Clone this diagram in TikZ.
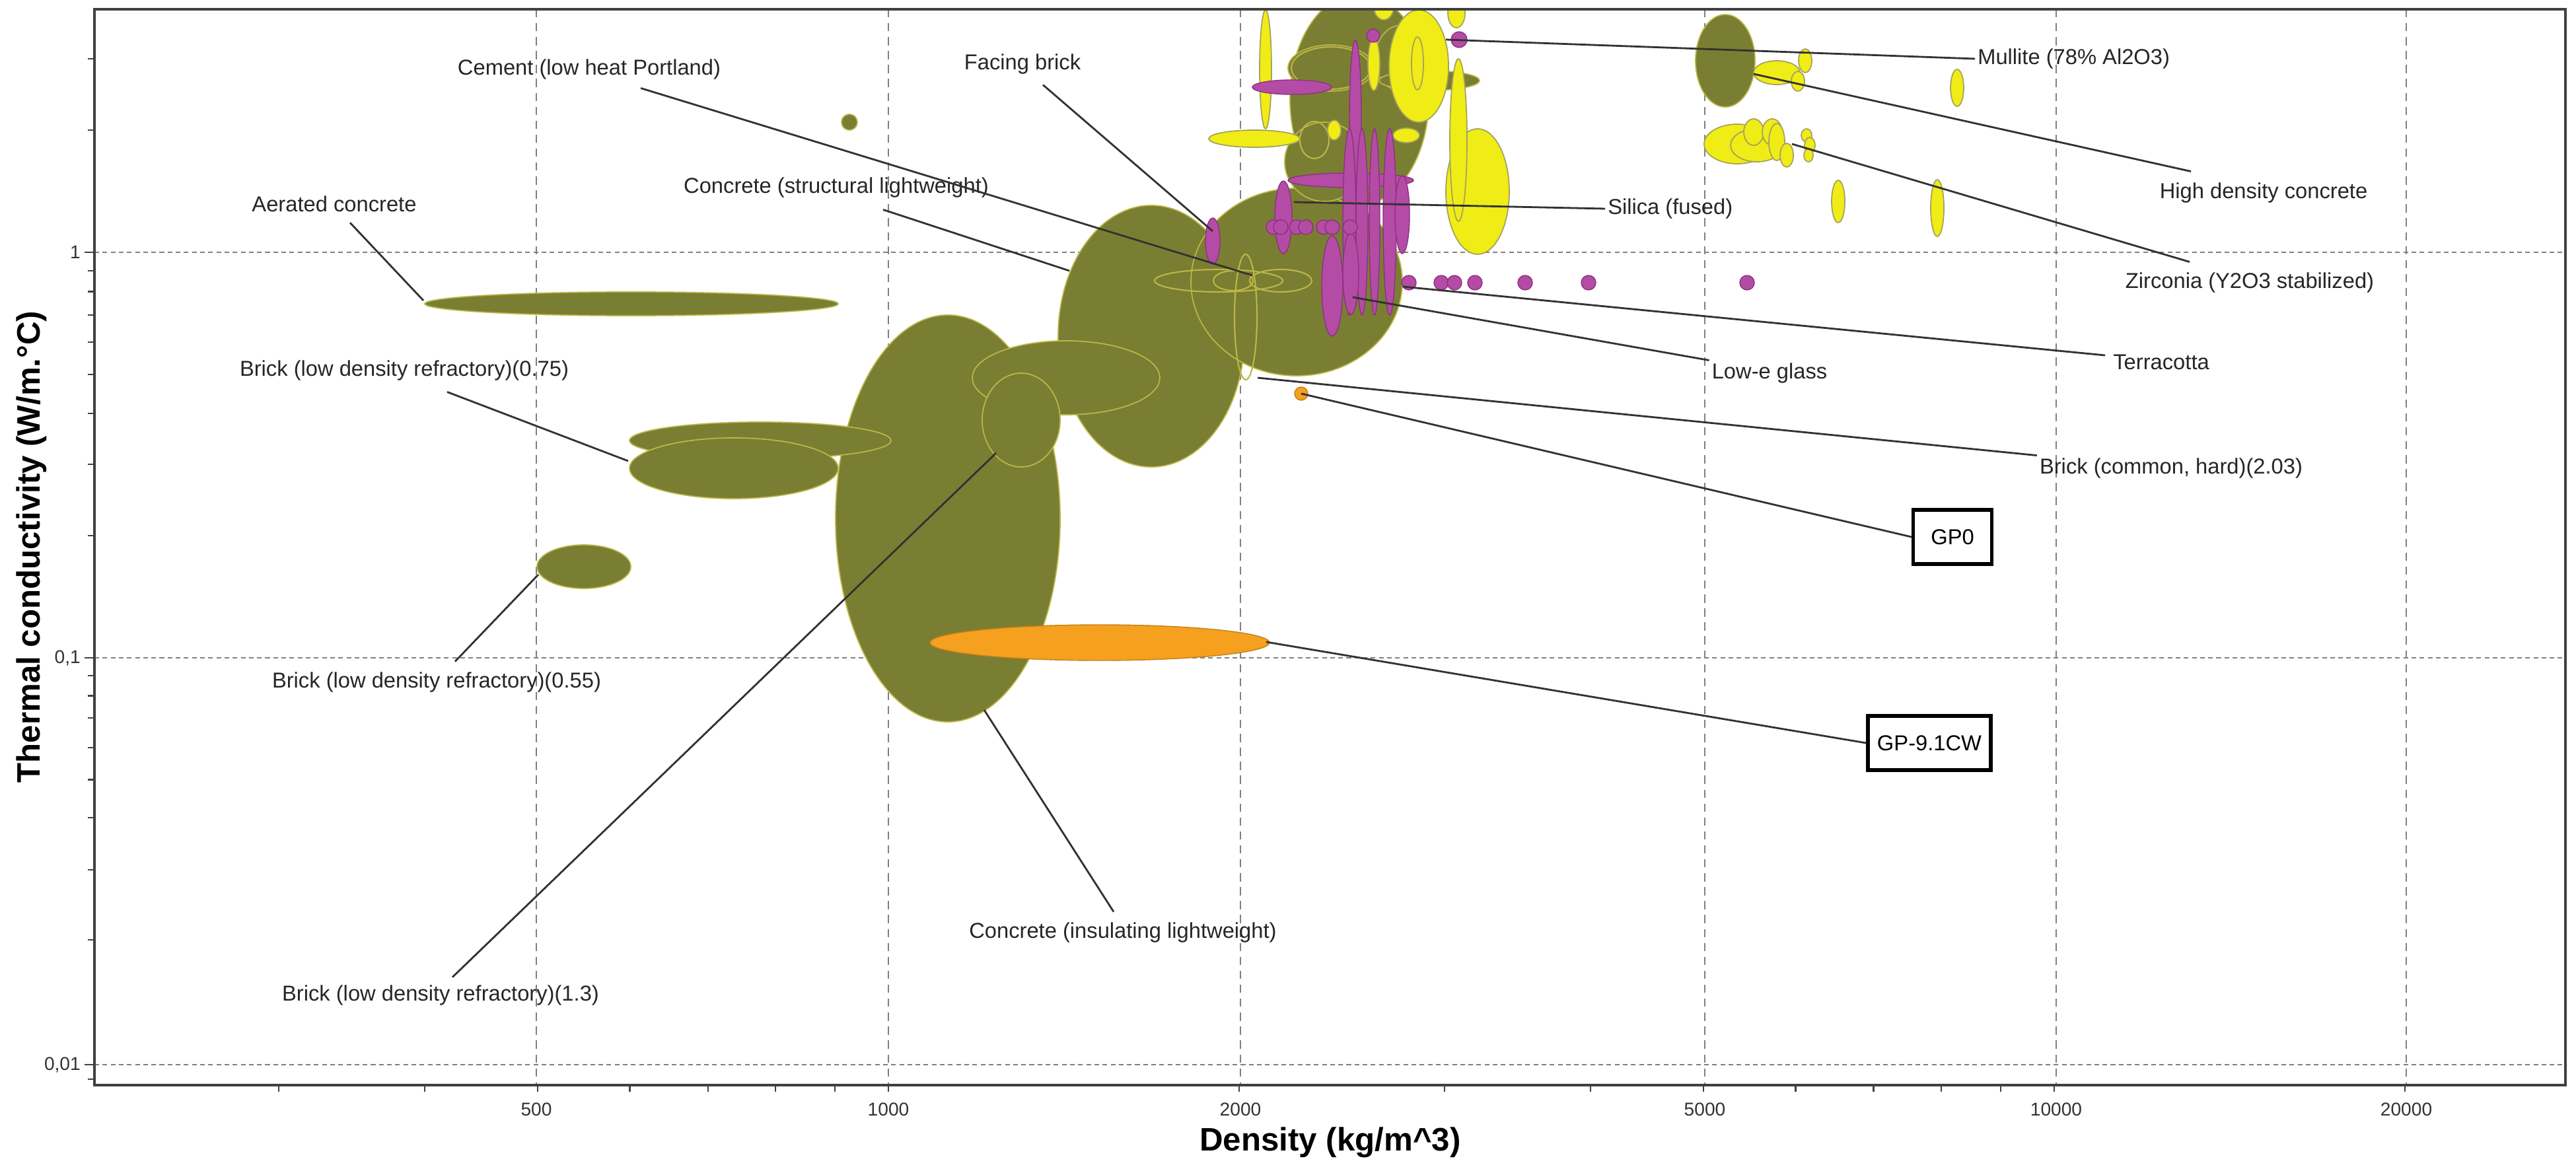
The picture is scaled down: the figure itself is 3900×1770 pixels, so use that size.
\documentclass[tikz,border=0pt]{standalone}
\usepackage{fontspec}
\setmainfont{Liberation Sans}
\usetikzlibrary{positioning,calc}
\definecolor{olivefill}{RGB}{122,126,50}
\definecolor{oliveedge}{RGB}{188,182,72}
\definecolor{yellowfill}{RGB}{240,236,22}
\definecolor{yellowedge}{RGB}{165,162,95}
\definecolor{magentafill}{RGB}{180,75,165}
\definecolor{magentaedge}{RGB}{140,50,130}
\definecolor{orangefill}{RGB}{245,160,30}
\definecolor{leadergray}{RGB}{50,50,50}

\begin{document}
\begin{tikzpicture}[
    x=0.01cm, y=-0.01cm,
    olive/.style={fill=olivefill, draw=oliveedge, line width=0.5pt},
    ring/.style={draw=oliveedge, line width=0.6pt},
    yel/.style={fill=yellowfill, draw=yellowedge, line width=0.5pt},
    mag/.style={fill=magentafill, draw=magentaedge, line width=0.4pt},
    org/.style={fill=orangefill, draw=orangefill!80!black, line width=0.4pt},
    grid/.style={gray, line width=0.45pt, dash pattern=on 3.5pt off 2.5pt},
    lbl/.style={font=\fontsize{9.3}{11}\selectfont, text=black!85, inner sep=1pt},
    tick/.style={font=\fontsize{8}{9}\selectfont, text=black!80, inner sep=1pt},
    title/.style={font=\fontsize{14}{16}\selectfont\bfseries, inner sep=1pt},
    leader/.style={draw=leadergray, line width=0.8pt},
    gpbox/.style={draw=black, line width=1.5pt, font=\fontsize{9.3}{11}\selectfont, minimum height=0.82cm, inner sep=2pt}
]
\useasboundingbox[fill=white] (0,0) rectangle (3900,1770);

% Grid
\foreach \gx in {812,1345,1878,2581,3113,3643}
  \draw[grid] (\gx,14) -- (\gx,1643);
\foreach \gy in {382,996,1612}
  \draw[grid, dash pattern=on 2pt off 1.5pt] (143,\gy) -- (3884,\gy);

% Material bubbles
\begin{scope}
\clip (143,14) rectangle (3884,1643);
\foreach \x/\y/\a/\b in {1435/785/170/308, 1743/509/141/198, 1963/427/160/142,
    2058/150/105/160, 2005/245/60/60, 2015/103/65/35, 2122/88/40/50, 2164/122/76/15,
    2612/92/45/70, 1151/667/198/28, 1111/709/158/46, 884/858/71/33, 956/460/313/18,
    1286/185/12/12, 1614/572/142/56, 1546/636/59/71}
  \filldraw[olive] (\x,\y) ellipse [x radius=\a, y radius=\b];
\foreach \x/\y/\a/\b in {1845/425/97/17, 1867/425/30/15, 1939/425/47/17,
    1886/480/17/95, 1990/212/22/28, 2015/103/60/32}
  \draw[ring] (\x,\y) ellipse [x radius=\a, y radius=\b];
\foreach \x/\y/\a/\b in {1916/105/9/90, 1899/210/69/13, 2148/100/45/85, 2237/290/48/95,
    2208/212/13/123, 2020/197/10/15, 2129/205/20/11, 2146/96/9/40, 2080/97/9/40,
    2095/10/15/20, 2205/20/13/22, 2690/110/35/18, 2733/92/10/18, 2722/123/10/15,
    2963/133/10/28, 2630/218/50/30, 2660/220/40/25, 2655/200/15/20, 2683/200/15/20,
    2690/215/12/28, 2705/235/10/18, 2735/205/8/10, 2740/220/8/12, 2738/235/7/10,
    2783/305/10/32, 2933/315/10/43}
  \filldraw[yel] (\x,\y) ellipse [x radius=\a, y radius=\b];
\foreach \x/\y/\a/\b in {2052/175/9/114, 1956/132/60/11, 2045/273/95/11,
    2043/336/10/141, 2062/336/9/141, 2081/336/8/141, 2104/336/10/141,
    2123/325/11/59, 1943/329/13/55, 2017/433/16/76, 2045/414/12/62,
    1836/365/11/35, 2079/54/10/10, 2209/60/12/12}
  \filldraw[mag] (\x,\y) ellipse [x radius=\a, y radius=\b];
\foreach \x in {1928,1939,1963,1977,2004,2017,2044}
  \filldraw[mag] (\x,344) ellipse [x radius=11, y radius=11];
\foreach \x in {2133,2182,2202,2233,2309,2405,2645}
  \filldraw[mag] (\x,428) ellipse [x radius=11, y radius=11];
\filldraw[org] (1665,973) ellipse [x radius=257, y radius=27];
\filldraw[org] (1970,596) ellipse [x radius=10, y radius=10];
\end{scope}

% Axes (densities in thousands)
\draw[black!75, line width=1.1pt] (143,14) rectangle (3884,1643);
\foreach \v in {0.3,0.4,0.5,0.6,0.7,0.8,0.9,1,2,3,4,5,6,7,8,9,10,20} {
  \pgfmathsetmacro\tx{1345+1765*log10(\v)}
  \draw[black!75, line width=0.6pt] (\tx,1643) -- (\tx,1653);
}
\foreach \k in {0.009,0.02,0.03,0.04,0.05,0.06,0.07,0.08,0.09,0.2,0.3,0.4,0.5,0.6,0.7,0.8,0.9,2,3} {
  \pgfmathsetmacro\ty{382-614*log10(\k)}
  \draw[black!75, line width=0.6pt] (133,\ty) -- (143,\ty);
}
\foreach \gy in {382,996,1612}
  \draw[black!75, line width=0.6pt] (128,\gy) -- (143,\gy);
\foreach \gx/\v in {812/500,1345/1000,1878/2000,2581/5000,3113/10000,3643/20000}
  \node[tick] at (\gx,1680) {\v};
\node[tick, anchor=east] at (126,382) {1};
\node[tick, anchor=east] at (126,996) {0,1};
\node[tick, anchor=east] at (126,1612) {0,01};
\node[title, rotate=90] (ytitle) at (48,828) {Thermal conductivity (W/m.°C)};
\node[title] (xtitle) at (2014,1730) {Density (kg/m\textasciicircum 3)};

% Labels
\node[lbl] (cem) at (892,105) {Cement (low heat Portland)};
\node[lbl] (fac) at (1548,97) {Facing brick};
\node[lbl] (csl) at (1266,284) {Concrete (structural lightweight)};
\node[lbl] (aer) at (506,309) {Aerated concrete};
\node[lbl] (b75) at (612,561) {Brick (low density refractory)(0.75)};
\node[lbl] (b55) at (661,1033) {Brick (low density refractory)(0.55)};
\node[lbl] (b13) at (667,1507) {Brick (low density refractory)(1.3)};
\node[lbl] (cil) at (1700,1412) {Concrete (insulating lightweight)};
\node[lbl, anchor=west] (mul) at (2990,89) {Mullite (78\% Al2O3)};
\node[lbl] (hdc) at (3427,292) {High density concrete};
\node[lbl] (zir) at (3406,428) {Zirconia (Y2O3 stabilized)};
\node[lbl, anchor=west] (sil) at (2430,316) {Silica (fused)};
\node[lbl] (ter) at (3272,548) {Terracotta};
\node[lbl] (low) at (2679,565) {Low-e glass};
\node[lbl] (bch) at (3287,709) {Brick (common, hard)(2.03)};
\node[gpbox, minimum width=1.19cm] (gp0) at (2956,813) {GP0};
\node[gpbox, minimum width=1.86cm] (gp9) at (2921,1125) {GP-9.1CW};

% Leaders
\coordinate (m-cem) at (1896,417);
\coordinate (m-fac) at (1836,350);
\coordinate (m-csl) at (1619,410);
\coordinate (m-aer) at (641,455);
\coordinate (m-b75) at (951,698);
\coordinate (m-b55) at (815,870);
\coordinate (m-b13) at (1508,686);
\coordinate (m-cil) at (1490,1075);
\coordinate (m-mul) at (2189,60);
\coordinate (m-hdc) at (2655,112);
\coordinate (m-zir) at (2713,218);
\coordinate (m-sil) at (1959,306);
\coordinate (m-ter) at (2124,434);
\coordinate (m-low) at (2048,450);
\coordinate (m-bch) at (1904,572);
\coordinate (m-gp0) at (1970,596);
\coordinate (m-gp9) at (1917,972);
\draw[leader] (m-cem) -- ($(cem.south)+(78,9)$);
\draw[leader] (m-fac) -- ($(fac.south)+(31,12)$);
\draw[leader] (m-csl) -- ($(csl.south)+(71,14)$);
\draw[leader] (m-aer) -- ($(aer.south)+(24,12)$);
\draw[leader] (m-b75) -- ($(b75.south)+(65,13)$);
\draw[leader] (m-b55) -- ($(b55.north)+(28,-12)$);
\draw[leader] (m-b13) -- ($(b13.north)+(18,-8)$);
\draw[leader] (m-cil) -- ($(cil.north)+(-14,-12)$);
\draw[leader] (m-mul) -- (mul.west);
\draw[leader] (m-hdc) -- ($(hdc.north)+(-110,-13)$);
\draw[leader] (m-zir) -- ($(zir.north)+(-91,-12)$);
\draw[leader] (m-sil) -- (sil.west);
\draw[leader] (m-ter) -- ($(ter.west)+(-8,-10)$);
\draw[leader] (m-low) -- (low.north west);
\draw[leader] (m-bch) -- (bch.north west);
\draw[leader] (m-gp0) -- (gp0.west);
\draw[leader] (m-gp9) -- (gp9.west);
\end{tikzpicture}
\end{document}
